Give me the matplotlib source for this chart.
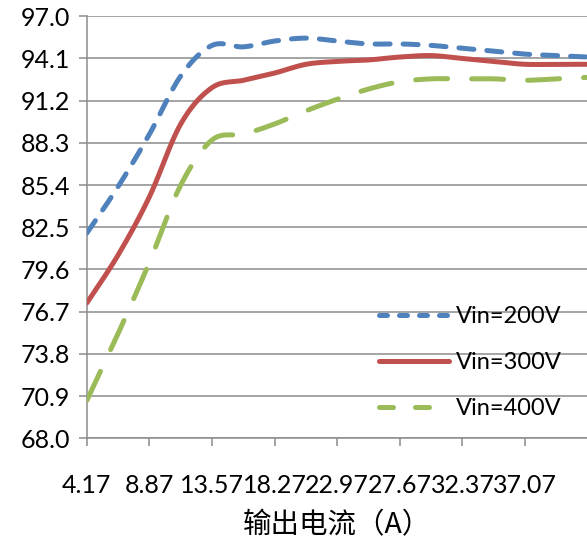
import numpy as np
import matplotlib
matplotlib.use("Agg")
import matplotlib.pyplot as plt
from matplotlib.lines import Line2D

# ==== Data ====
current = [4.17, 6.52, 8.87, 11.22, 13.57, 15.92, 18.27, 20.62, 22.97,
           25.32, 27.67, 30.02, 32.37, 34.72, 37.07, 39.42, 41.77]
eff_200 = [82.1, 85.3, 88.9, 92.9, 95.0, 94.9, 95.3, 95.5, 95.3,
           95.1, 95.1, 95.0, 94.8, 94.6, 94.4, 94.3, 94.2]
eff_300 = [77.3, 80.6, 84.6, 89.6, 92.1, 92.6, 93.1, 93.7, 93.9,
           94.0, 94.2, 94.3, 94.1, 93.9, 93.7, 93.7, 93.7]
eff_400 = [70.6, 75.2, 80.1, 85.4, 88.5, 88.9, 89.6, 90.5, 91.3,
           92.0, 92.5, 92.7, 92.7, 92.7, 92.6, 92.7, 92.8]
series_labels = ["Vin=200V", "Vin=300V", "Vin=400V"]

x_ticks = [4.17, 8.87, 13.57, 18.27, 22.97, 27.67, 32.37, 37.07]
y_ticks = [68.0, 70.9, 73.8, 76.7, 79.6, 82.5, 85.4, 88.3, 91.2, 94.1, 97.0]
x_title = "输出电流（A）"


# ==== Excel-like smoothed line (bezier through the points) ====
def smooth(x, y, n=25):
    p = np.column_stack([x, y]).astype(float)
    out = [p[0]]
    t = np.linspace(0, 1, n)[1:, None]
    for i in range(len(p) - 1):
        p0 = p[max(i - 1, 0)]
        p1, p2 = p[i], p[i + 1]
        p3 = p[min(i + 2, len(p) - 1)]
        c1 = p1 + (p2 - p0) / 6
        c2 = p2 - (p3 - p1) / 6
        seg = ((1 - t) ** 3) * p1 + 3 * ((1 - t) ** 2) * t * c1 \
            + 3 * (1 - t) * t ** 2 * c2 + t ** 3 * p2
        out.extend(seg)
    out = np.array(out)
    return out[:, 0], out[:, 1]


plt.rcParams['font.family'] = ['Lato', 'DejaVu Sans']

fig = plt.figure(figsize=(5.87, 5.43), dpi=100)
ax = fig.add_axes([0.148, 0.193, 0.853, 0.777])

blue, red, green = "#4F81BD", "#C0504D", "#9BBB59"
grid_c = "#8C8C8C"
lw = 3.6
fs = 18

sx, sy = smooth(current, eff_200)
ax.plot(sx, sy, color=blue, lw=lw, dashes=(3.0, 2.6), dash_capstyle='round', zorder=3)
sx, sy = smooth(current, eff_300)
ax.plot(sx, sy, color=red, lw=lw, solid_capstyle='round', zorder=3)
sx, sy = smooth(current, eff_400)
ax.plot(sx, sy, color=green, lw=lw, dashes=(6.4, 4.8), dash_capstyle='round', zorder=3)

ax.set_xlim(4.17, 41.77)
ax.set_ylim(68.0, 97.0)
ax.set_xticks(x_ticks)
ax.set_xticklabels([f"{v:.2f}" for v in x_ticks])
ax.set_yticks(y_ticks)
ax.set_yticklabels([f"{v:.1f}" for v in y_ticks])
ax.tick_params(axis='both', direction='out', length=6, width=1.1, color=grid_c,
               labelsize=fs, labelcolor='black')
ax.tick_params(axis='x', pad=20)
ax.tick_params(axis='y', pad=6)

ax.grid(True, axis='y', color=grid_c, lw=1.1, zorder=0)
ax.set_axisbelow(True)
for s in ['top', 'right']:
    ax.spines[s].set_visible(False)
for s in ['left', 'bottom']:
    ax.spines[s].set_color(grid_c)
    ax.spines[s].set_linewidth(1.1)

ax.set_xlabel(x_title, fontsize=20.5, family=['Noto Sans CJK SC', 'DejaVu Sans'],
              labelpad=9)

# legend proxies (Excel draws the legend dashes at a smaller scale)
handles = [
    Line2D([], [], color=blue, lw=lw, dashes=(1.6, 2.4), dash_capstyle='round'),
    Line2D([], [], color=red, lw=lw, solid_capstyle='round'),
    Line2D([], [], color=green, lw=lw, dashes=(2.8, 4.4), dash_capstyle='round'),
]
fig.legend(handles, series_labels, loc='center left', bbox_to_anchor=(0.645, 0.332),
           frameon=False, fontsize=17, handlelength=3.0, handletextpad=0.27,
           labelspacing=1.05, borderpad=0, borderaxespad=0)

fig.savefig("out.png", dpi=100)
